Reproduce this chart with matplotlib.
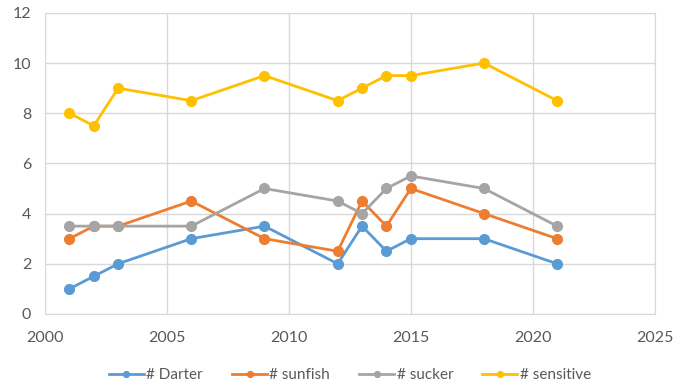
import matplotlib
matplotlib.use("Agg")
import matplotlib.pyplot as plt

# ── data ──────────────────────────────────────────────────────────────────
years = [2001, 2002, 2003, 2006, 2009, 2012, 2013, 2014, 2015, 2018, 2021]
darter = [1, 1.5, 2, 3, 3.5, 2, 3.5, 2.5, 3, 3, 2]
sunfish = [3, 3.5, 3.5, 4.5, 3, 2.5, 4.5, 3.5, 5, 4, 3]
sucker = [3.5, 3.5, 3.5, 3.5, 5, 4.5, 4, 5, 5.5, 5, 3.5]
sensitive = [8, 7.5, 9, 8.5, 9.5, 8.5, 9, 9.5, 9.5, 10, 8.5]

labels = ["# Darter", "# sunfish", "# sucker", "# sensitive"]
colors = ["#5B9BD5", "#ED7D31", "#A5A5A5", "#FFC000"]

plt.rcParams["font.family"] = ["Lato", "DejaVu Sans"]

fig = plt.figure(figsize=(6.87, 3.9), dpi=100)
ax = fig.add_axes([0.0655, 0.195, 0.8875, 0.772])

for vals, lab, col in zip([darter, sunfish, sucker, sensitive], labels, colors):
    ax.plot(years, vals, color=col, lw=2, marker="o", ms=7, label=lab)

ax.set_xlim(2000, 2025)
ax.set_ylim(0, 12)
ax.set_xticks(range(2000, 2026, 5))
ax.set_yticks(range(0, 13, 2))
ax.grid(color="#D9D9D9", lw=1)
ax.set_axisbelow(True)
for s in ax.spines.values():
    s.set_color("#D9D9D9")
ax.tick_params(length=0, labelsize=11.5, labelcolor="#595959")
ax.tick_params(axis="x", pad=12)
ax.tick_params(axis="y", pad=10)

ax.legend(loc="upper center", bbox_to_anchor=(0.50, -0.135), ncol=4, frameon=False,
          fontsize=11, labelcolor="#595959", handlelength=2.3, handletextpad=0.15,
          columnspacing=1.9, markerscale=0.6)

fig.savefig("out.png", dpi=100)
